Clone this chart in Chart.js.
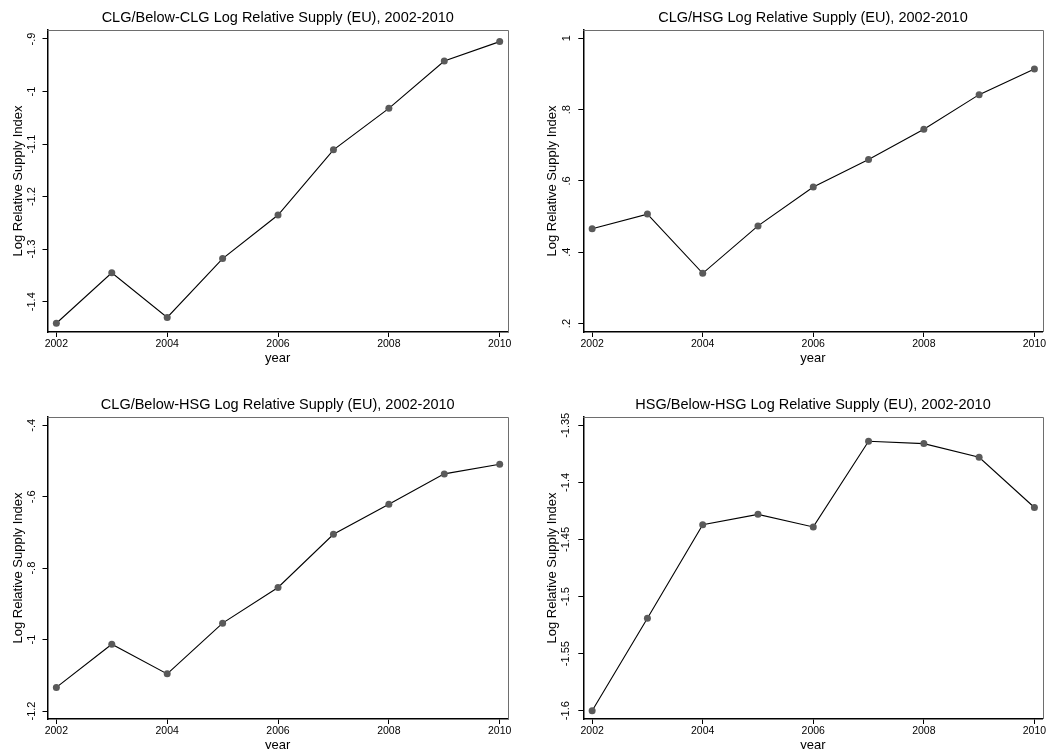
<!DOCTYPE html>
<html>
<head>
<meta charset="utf-8">
<script src="https://cdn.jsdelivr.net/npm/chart.js@4/dist/chart.umd.min.js"></script>
<style>
  html, body { margin: 0; padding: 0; background: #fff; overflow: hidden; }
  body { width: 1051px; height: 749px; position: relative; }
  .panel { position: absolute; }
  canvas { display: block; }
</style>
</head>
<body>
<div class="panel" id="w1" style="left:0px;top:0px;"><canvas id="c1" width="525" height="375"></canvas></div>
<div class="panel" id="w2" style="left:525px;top:0px;"><canvas id="c2" width="526" height="375"></canvas></div>
<div class="panel" id="w3" style="left:0px;top:387px;"><canvas id="c3" width="525" height="375"></canvas></div>
<div class="panel" id="w4" style="left:525px;top:387px;"><canvas id="c4" width="526" height="375"></canvas></div>
<script>
// ---- data ----
const years = [2002, 2003, 2004, 2005, 2006, 2007, 2008, 2009, 2010];
const clgBelowClg = [-1.441, -1.345, -1.430, -1.318, -1.235, -1.111, -1.032, -0.942, -0.905];
const clgHsg      = [0.466, 0.507, 0.341, 0.474, 0.583, 0.660, 0.745, 0.842, 0.914];
const clgBelowHsg = [-1.134, -1.013, -1.096, -0.954, -0.854, -0.705, -0.621, -0.536, -0.509];
const hsgBelowHsg = [-1.600, -1.519, -1.437, -1.428, -1.439, -1.364, -1.366, -1.378, -1.422];

const xTicks = [2002, 2004, 2006, 2008, 2010];
const yTicks1 = [-1.4, -1.3, -1.2, -1.1, -1, -0.9];
const yTicks2 = [0.2, 0.4, 0.6, 0.8, 1];
const yTicks3 = [-1.2, -1, -0.8, -0.6, -0.4];
const yTicks4 = [-1.6, -1.55, -1.5, -1.45, -1.4, -1.35];

const titles = [
  'CLG/Below-CLG Log Relative Supply (EU), 2002-2010',
  'CLG/HSG Log Relative Supply (EU), 2002-2010',
  'CLG/Below-HSG Log Relative Supply (EU), 2002-2010',
  'HSG/Below-HSG Log Relative Supply (EU), 2002-2010'
];
const yTitle = 'Log Relative Supply Index';
const xTitle = 'year';

const FONT = '"Liberation Sans", Arial, Helvetica, sans-serif';

function fmt(v) {
  let s = String(Number(Number(v).toFixed(2)));
  return s.replace(/^(-?)0\./, '$1.');
}

const framePlugin = {
  id: 'frame',
  afterDraw(chart) {
    const a = chart.chartArea, ctx = chart.ctx;
    ctx.save();
    ctx.strokeStyle = '#6e6e6e';
    ctx.lineWidth = 1;
    ctx.beginPath();
    ctx.moveTo(a.left, Math.round(a.top) + 0.5);
    ctx.lineTo(Math.round(a.right) + 0.5, Math.round(a.top) + 0.5);
    ctx.lineTo(Math.round(a.right) + 0.5, a.bottom);
    ctx.stroke();
    ctx.restore();
  }
};

function makeChart(id, cfg) {
  const W = cfg.W, H = 375;
  new Chart(document.getElementById(id), {
    type: 'line',
    data: {
      datasets: [{
        data: years.map((y, i) => ({ x: y, y: cfg.values[i] })),
        borderColor: '#000',
        borderWidth: 1.1,
        pointRadius: 3.5,
        pointBackgroundColor: '#5a5a5a',
        pointBorderColor: '#5a5a5a',
        pointBorderWidth: 0,
        tension: 0,
        fill: false,
        clip: false
      }]
    },
    options: {
      responsive: false,
      animation: false,
      devicePixelRatio: 1,
      layout: { padding: { left: 0, right: W - cfg.right, top: 0, bottom: 0 } },
      plugins: {
        legend: { display: false },
        tooltip: { enabled: false },
        title: {
          display: true,
          fullSize: false,
          text: cfg.title,
          color: '#000',
          font: { family: FONT, size: 14.5, weight: 'normal', lineHeight: 1.2 },
          padding: { top: 9.6, bottom: 3 }
        }
      },
      scales: {
        x: {
          type: 'linear',
          min: 2001.84,
          max: 2010.15,
          afterBuildTicks: s => { s.ticks = xTicks.map(v => ({ value: v })); },
          afterFit: s => { s.height = H - cfg.bottom; },
          ticks: {
            color: '#000',
            font: { family: FONT, size: 10.5 },
            padding: 1,
            maxRotation: 0,
            autoSkip: false,
            callback: v => String(v)
          },
          grid: { display: true, drawOnChartArea: false, drawTicks: true, tickLength: 5, color: '#000', lineWidth: 1 },
          border: { display: true, color: '#000', width: 1.5 },
          title: {
            display: true, text: xTitle, color: '#000',
            font: { family: FONT, size: 13, lineHeight: 1.2 },
            padding: { top: 0, bottom: 9.2 }
          }
        },
        y: {
          type: 'linear',
          min: cfg.ymin,
          max: cfg.ymax,
          afterBuildTicks: s => { s.ticks = cfg.yTicks.map(v => ({ value: v })); },
          afterFit: s => { s.width = cfg.left; },
          ticks: {
            color: '#000',
            font: { family: FONT, size: 11 },
            minRotation: 90,
            maxRotation: 90,
            crossAlign: 'center',
            padding: cfg.tickPad,
            autoSkip: false,
            callback: v => fmt(v)
          },
          grid: { display: true, drawOnChartArea: false, drawTicks: true, tickLength: 5, color: '#000', lineWidth: 1 },
          border: { display: true, color: '#000', width: 1.5 },
          title: {
            display: true, text: yTitle, color: '#000',
            font: { family: FONT, size: 13, lineHeight: 1.2 },
            padding: { top: cfg.titlePad, bottom: 0 }
          }
        }
      }
    },
    plugins: [framePlugin]
  });
}

makeChart('c1', { W: 525, left: 47.5, right: 508, bottom: 332, title: titles[0], values: clgBelowClg,
  ymin: -1.4577, ymax: -0.8829, yTicks: yTicks1, tickPad: 1.1, titlePad: 10.5 });
makeChart('c2', { W: 526, left: 58.3, right: 517.7, bottom: 332, title: titles[1], values: clgHsg,
  ymin: 0.1764, ymax: 1.0233, yTicks: yTicks2, tickPad: 6.4, titlePad: 20 });
makeChart('c3', { W: 525, left: 47.5, right: 508, bottom: 332, title: titles[2], values: clgBelowHsg,
  ymin: -1.2224, ymax: -0.3767, yTicks: yTicks3, tickPad: 1.1, titlePad: 10.5 });
makeChart('c4', { W: 526, left: 58.3, right: 517.7, bottom: 332, title: titles[3], values: hsgBelowHsg,
  ymin: -1.6073, ymax: -1.3427, yTicks: yTicks4, tickPad: 0, titlePad: 20 });
</script>
</body>
</html>
